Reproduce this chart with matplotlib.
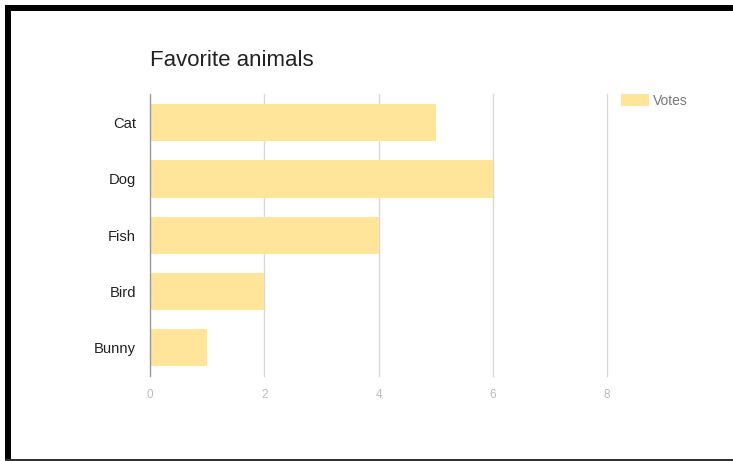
import matplotlib
matplotlib.use("Agg")
import matplotlib.pyplot as plt
from matplotlib.patches import Rectangle

categories = ["Cat", "Dog", "Fish", "Bird", "Bunny"]
votes = [5, 6, 4, 2, 1]
xticks = [0, 2, 4, 6, 8]
title = "Favorite animals"
series_name = "Votes"

plt.rcParams['font.family'] = ['Liberation Sans', 'DejaVu Sans']

W, H = 733, 461
fig = plt.figure(figsize=(W / 100, H / 100), dpi=100)
fig.patch.set_facecolor("white")

ax = fig.add_axes([150 / W, 1 - 376 / H, (607 - 150) / W, (376 - 94.5) / H])
ypos = list(range(len(categories)))
bars = ax.barh(ypos, votes, height=0.66, color="#FFE599", label=series_name, zorder=2)
ax.set_ylim(len(categories) - 0.5, -0.5)
ax.set_xlim(0, 8)
ax.set_yticks(ypos)
ax.set_yticklabels(categories, fontsize=10.6, color="#222222")
ax.set_xticks(xticks)
ax.set_xticklabels([str(t) for t in xticks], fontsize=8.5, color="#bbbbbb")
ax.tick_params(axis="both", length=0)
ax.tick_params(axis="y", pad=10)
ax.tick_params(axis="x", pad=9)
for s in ["top", "right", "bottom"]:
    ax.spines[s].set_visible(False)
ax.spines["left"].set_color("#999999")
ax.spines["left"].set_linewidth(1.0)
ax.spines["left"].set_zorder(3)
for t in xticks[1:]:
    ax.axvline(t, color="#d9d9d9", linewidth=1.0, zorder=1, clip_on=False)

fig.text(150 / W, 1 - 60 / H, title, fontsize=16, color="#222222",
         ha="left", va="center")

leg = ax.legend(loc="center left", bbox_to_anchor=(621 / W, 1 - 101 / H),
                bbox_transform=fig.transFigure, frameon=False, fontsize=10,
                handlelength=2.0, handleheight=1.0, handletextpad=0.3,
                borderpad=0, borderaxespad=0)
for txt in leg.get_texts():
    txt.set_color("#777777")

# frame borders
fig.add_artist(Rectangle((5 / W, 1 - 11 / H), 1 - 5 / W, 6 / H,
                         transform=fig.transFigure, color="black", lw=0))
fig.add_artist(Rectangle((5 / W, 0), 6 / W, 1 - 5 / H,
                         transform=fig.transFigure, color="black", lw=0))
fig.add_artist(Rectangle((5 / W, 0), 1 - 5 / W, 2 / H,
                         transform=fig.transFigure, color="#333333", lw=0))

fig.savefig("out.png", dpi=100)
